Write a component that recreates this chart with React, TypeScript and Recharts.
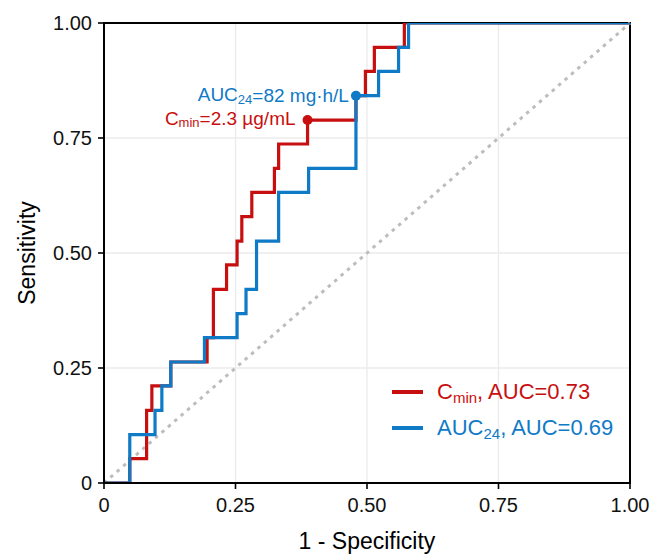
import React from "react";
import {
  LineChart,
  Line,
  XAxis,
  YAxis,
  CartesianGrid,
  ReferenceLine,
  ReferenceDot,
  ReferenceArea,
  Legend,
} from "recharts";

// ROC points (1 - specificity, sensitivity), drawn as steps
const cminFpr = [0, 0.049, 0.081, 0.091, 0.127, 0.196, 0.208, 0.233, 0.253, 0.262, 0.281, 0.324, 0.332, 0.387, 0.479, 0.497, 0.514, 0.571, 1];
const cminTpr = [0, 0.053, 0.158, 0.211, 0.263, 0.316, 0.421, 0.474, 0.526, 0.579, 0.632, 0.684, 0.737, 0.789, 0.842, 0.895, 0.947, 1, 1];

const auc24Fpr = [0, 0.049, 0.097, 0.11, 0.127, 0.191, 0.253, 0.27, 0.29, 0.332, 0.389, 0.479, 0.522, 0.56, 0.579, 1];
const auc24Tpr = [0, 0.105, 0.158, 0.211, 0.263, 0.316, 0.368, 0.421, 0.526, 0.632, 0.684, 0.842, 0.895, 0.947, 1, 1];

const chanceFpr = [0, 1];
const chanceTpr = [0, 1];

const axisTicks = [0, 0.25, 0.5, 0.75, 1];

// optimal cut-offs
const cutFpr = [0.387, 0.479];
const cutTpr = [0.789, 0.842];
const cutMain = ["C", "AUC"];
const cutSub = ["min", "24"];
const cutRest = ["=2.3 \u00b5g/mL", "=82 mg\u00b7h/L"];

const legendMain = ["C", "AUC"];
const legendSub = ["min", "24"];
const legendRest = [", AUC=0.73", ", AUC=0.69"];

const RED = "#c80f0f";
const BLUE = "#0f7ac6";
const colors = [RED, BLUE];
const FONT = "'Liberation Sans', Arial, Helvetica, sans-serif";

const cminData = cminFpr.map((x, i) => ({ fpr: x, tpr: cminTpr[i] }));
const auc24Data = auc24Fpr.map((x, i) => ({ fpr: x, tpr: auc24Tpr[i] }));

const fmt = (v: number) => (v === 0 ? "0" : v.toFixed(2));

// nudges for the cut-off labels (px)
const labelShift = [
  { dx: -12, dy: -2 },
  { dx: -7, dy: -1 },
];

function CutLabel(props: any) {
  const { viewBox, idx } = props;
  if (!viewBox) return null;
  const cx = viewBox.x + viewBox.width / 2;
  const cy = viewBox.y + viewBox.height / 2;
  return (
    <text
      x={cx + labelShift[idx].dx}
      y={cy + labelShift[idx].dy}
      textAnchor="end"
      dominantBaseline="central"
      fill={colors[idx]}
      fontSize={19}
      fontFamily={FONT}
    >
      {cutMain[idx]}
      <tspan dy={4} fontSize={13}>
        {cutSub[idx]}
      </tspan>
      <tspan dy={-4}>{cutRest[idx]}</tspan>
    </text>
  );
}

function AxisTitle(props: any) {
  const { viewBox, value, vertical } = props;
  if (!viewBox) return null;
  if (vertical) {
    const x = viewBox.x + 27;
    const y = viewBox.y + viewBox.height / 2;
    return (
      <text
        x={x}
        y={y}
        transform={`rotate(-90 ${x} ${y})`}
        textAnchor="middle"
        dominantBaseline="central"
        fontSize={23}
        fill="#000"
        fontFamily={FONT}
      >
        {value}
      </text>
    );
  }
  return (
    <text
      x={viewBox.x + viewBox.width / 2}
      y={viewBox.y + 58}
      textAnchor="middle"
      dominantBaseline="central"
      fontSize={23}
      fill="#000"
      fontFamily={FONT}
    >
      {value}
    </text>
  );
}

function LegendBox() {
  return (
    <div style={{ fontFamily: FONT, fontSize: 22 }}>
      {legendMain.map((m, i) => (
        <div
          key={i}
          style={{ display: "flex", alignItems: "center", height: 36, color: colors[i] }}
        >
          <span
            style={{ display: "inline-block", width: 31, height: 3.5, background: colors[i], marginRight: 14 }}
          />
          <span>
            {m}
            <sub style={{ fontSize: 15, verticalAlign: -4 }}>{legendSub[i]}</sub>
            {legendRest[i]}
          </span>
        </div>
      ))}
    </div>
  );
}

export default function App() {
  return (
    <div style={{ position: "absolute", left: 0, top: 0, background: "#fff" }}>
      <LineChart
        width={654}
        height={554}
        margin={{ top: 23, right: 24, left: 0, bottom: 0 }}
        style={{ fontFamily: FONT }}
      >
        <CartesianGrid stroke="#ebebeb" strokeWidth={1.3} />
        <XAxis
          dataKey="fpr"
          type="number"
          domain={[0, 1]}
          ticks={axisTicks}
          tickFormatter={fmt}
          height={71}
          tickSize={6}
          tickMargin={9}
          axisLine={{ stroke: "#000", strokeWidth: 2 }}
          tickLine={{ stroke: "#000", strokeWidth: 1.6 }}
          tick={{ fontSize: 20, fill: "#111", fontFamily: FONT }}
          label={<AxisTitle value="1 - Specificity" />}
          allowDataOverflow
        />
        <YAxis
          dataKey="tpr"
          type="number"
          domain={[0, 1]}
          ticks={axisTicks}
          tickFormatter={fmt}
          width={104}
          tickSize={6}
          tickMargin={6}
          axisLine={{ stroke: "#000", strokeWidth: 2 }}
          tickLine={{ stroke: "#000", strokeWidth: 1.6 }}
          tick={{ fontSize: 20, fill: "#111", fontFamily: FONT }}
          label={<AxisTitle value="Sensitivity" vertical />}
          allowDataOverflow
        />
        <ReferenceLine
          segment={[
            { x: chanceFpr[0], y: chanceTpr[0] },
            { x: chanceFpr[1], y: chanceTpr[1] },
          ]}
          stroke="#bdbdbd"
          strokeWidth={3}
          strokeDasharray="3.5 5"
        />
        <Line
          data={cminData}
          dataKey="tpr"
          type="stepAfter"
          stroke={RED}
          strokeWidth={3.2}
          dot={false}
          isAnimationActive={false}
        />
        <Line
          data={auc24Data}
          dataKey="tpr"
          type="stepAfter"
          stroke={BLUE}
          strokeWidth={3.2}
          dot={false}
          isAnimationActive={false}
        />
        {cutFpr.map((x, i) => (
          <ReferenceDot
            key={i}
            x={x}
            y={cutTpr[i]}
            r={5}
            fill={colors[i]}
            stroke="none"
            label={<CutLabel idx={i} />}
          />
        ))}
        <ReferenceArea x1={0} x2={1} y1={0} y2={1} fill="none" stroke="#000" strokeWidth={2} />
        <Legend
          layout="vertical"
          align="center"
          verticalAlign="middle"
          content={<LegendBox />}
          wrapperStyle={{ left: 392, top: 374, width: 250, height: 72 }}
        />
      </LineChart>
    </div>
  );
}
